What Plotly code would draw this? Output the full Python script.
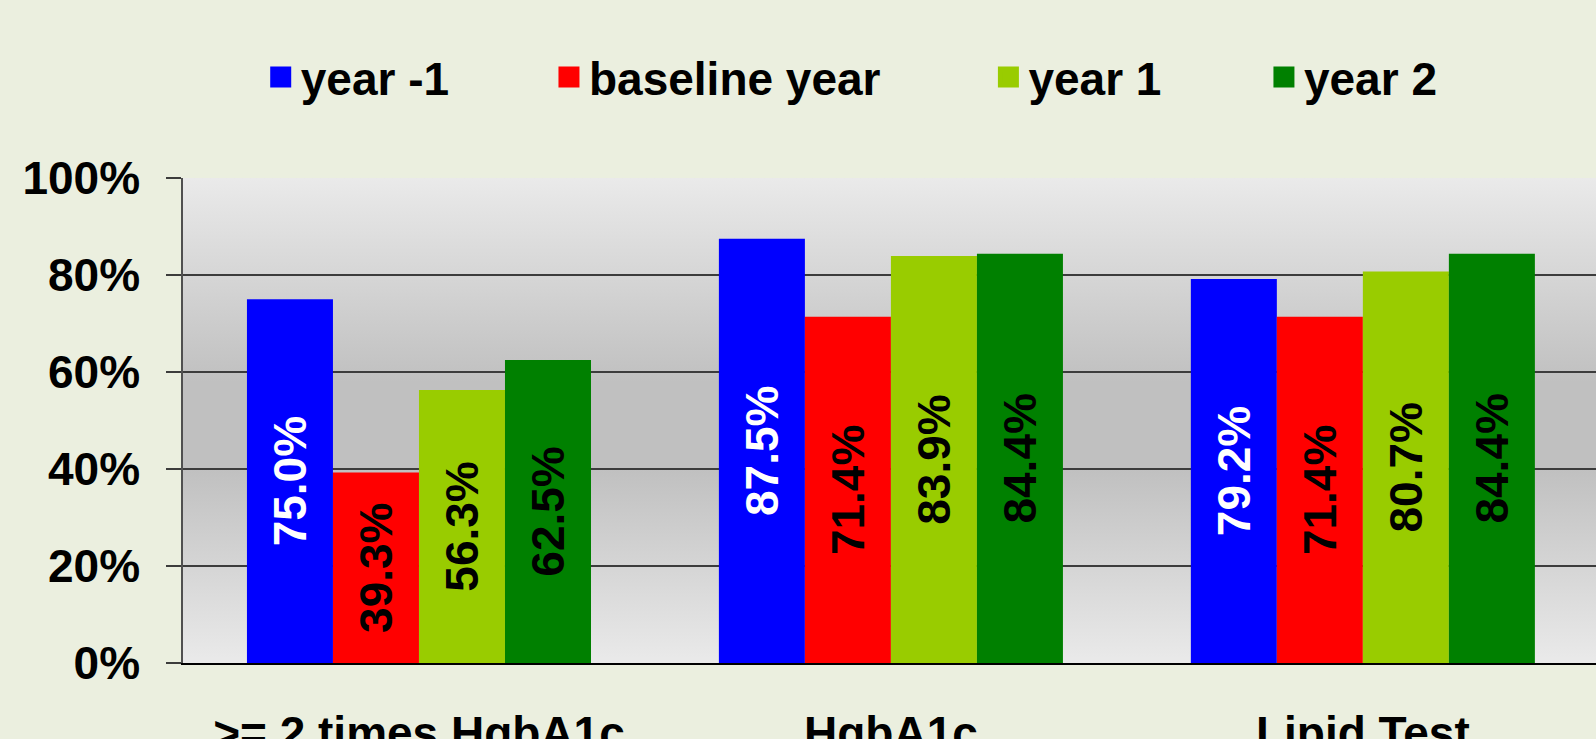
import base64
import plotly.graph_objects as go

# categories and series (fractions)
categories = [">= 2 times HgbA1c", "HgbA1c", "Lipid Test"]
series_names = ["year -1", "baseline year", "year 1", "year 2"]
year_minus1 = [0.750, 0.875, 0.792]
baseline_year = [0.393, 0.714, 0.714]
year_1 = [0.563, 0.839, 0.807]
year_2 = [0.625, 0.844, 0.844]

bar_colors = ["#0000FF", "#FF0000", "#99CC00", "#008000"]
label_colors = ["white", "black", "black", "black"]
legend_x = [0.055, 0.259, 0.570, 0.765]

FONT = "Arial, 'Liberation Sans', sans-serif"

# gray gradient for the plot area (light - dark - light)
svg = (
    '<svg xmlns="http://www.w3.org/2000/svg" width="10" height="100" preserveAspectRatio="none">'
    '<defs><linearGradient id="g" x1="0" y1="0" x2="0" y2="1">'
    '<stop offset="0" stop-color="#EAEAEA"/>'
    '<stop offset="0.42" stop-color="#C0C0C0"/>'
    '<stop offset="0.6" stop-color="#C0C0C0"/>'
    '<stop offset="1" stop-color="#EAEAEA"/>'
    '</linearGradient></defs>'
    '<rect width="10" height="100" fill="url(#g)"/></svg>'
)
bg_src = "data:image/svg+xml;base64," + base64.b64encode(svg.encode()).decode()

fig = go.Figure()

all_values = [year_minus1, baseline_year, year_1, year_2]
for i, (name, vals) in enumerate(zip(series_names, all_values)):
    fig.add_trace(go.Bar(
        x=categories,
        y=vals,
        name=name,
        marker=dict(color=bar_colors[i], line=dict(width=0)),
        texttemplate="%{y:.1%}",
        textposition="inside",
        insidetextanchor="middle",
        textangle=-90,
        insidetextfont=dict(family=FONT, size=46, color=label_colors[i], weight="bold"),
        showlegend=False,
        hoverinfo="skip",
    ))
    # legend entry with a bigger square
    lg = "legend" if i == 0 else f"legend{i + 1}"
    fig.add_trace(go.Scatter(
        x=[None], y=[None],
        mode="markers",
        marker=dict(symbol="square", size=16, color=bar_colors[i],
                    line=dict(color=bar_colors[i], width=5)),
        name=name,
        legend=lg,
        hoverinfo="skip",
    ))

legend_style = dict(
    orientation="h",
    y=1.208,
    yanchor="middle",
    xanchor="left",
    bgcolor="rgba(0,0,0,0)",
    font=dict(family=FONT, size=46, color="black", weight="bold"),
    itemclick=False,
)

fig.update_layout(
    width=1596,
    height=739,
    margin=dict(l=183, r=0, t=178, b=76, autoexpand=False),
    paper_bgcolor="#EBEFDF",
    plot_bgcolor="#D8D8D8",
    font=dict(family=FONT, size=46, color="black", weight="bold"),
    barmode="group",
    bargap=0.271,
    bargroupgap=0,
    legend=dict(x=legend_x[0], **legend_style),
    legend2=dict(x=legend_x[1], **legend_style),
    legend3=dict(x=legend_x[2], **legend_style),
    legend4=dict(x=legend_x[3], **legend_style),
    images=[dict(
        source=bg_src,
        xref="paper", yref="paper",
        x=0, y=1, sizex=1, sizey=1,
        xanchor="left", yanchor="top",
        sizing="stretch",
        layer="below",
    )],
    xaxis=dict(
        type="category",
        range=[-0.5, 2.494],
        automargin=False,
        showgrid=False,
        showline=True,
        linecolor="black",
        linewidth=2,
        ticks="",
        ticklabelstandoff=29,
        tickfont=dict(family=FONT, size=46, color="black", weight="bold"),
    ),
    yaxis=dict(
        range=[0, 1],
        dtick=0.2,
        automargin=False,
        tickformat=".0%",
        showgrid=True,
        gridcolor="#3C3C3C",
        gridwidth=1.5,
        zeroline=False,
        showline=True,
        linecolor="#505050",
        linewidth=1.5,
        ticks="outside",
        ticklen=15,
        tickwidth=1.5,
        tickcolor="#3C3C3C",
        ticklabelstandoff=17,
        tickfont=dict(family=FONT, size=46, color="black", weight="bold"),
    ),
)

fig.write_html("out.html", config={"displayModeBar": False},
               post_script="document.body.style.margin='0';")
